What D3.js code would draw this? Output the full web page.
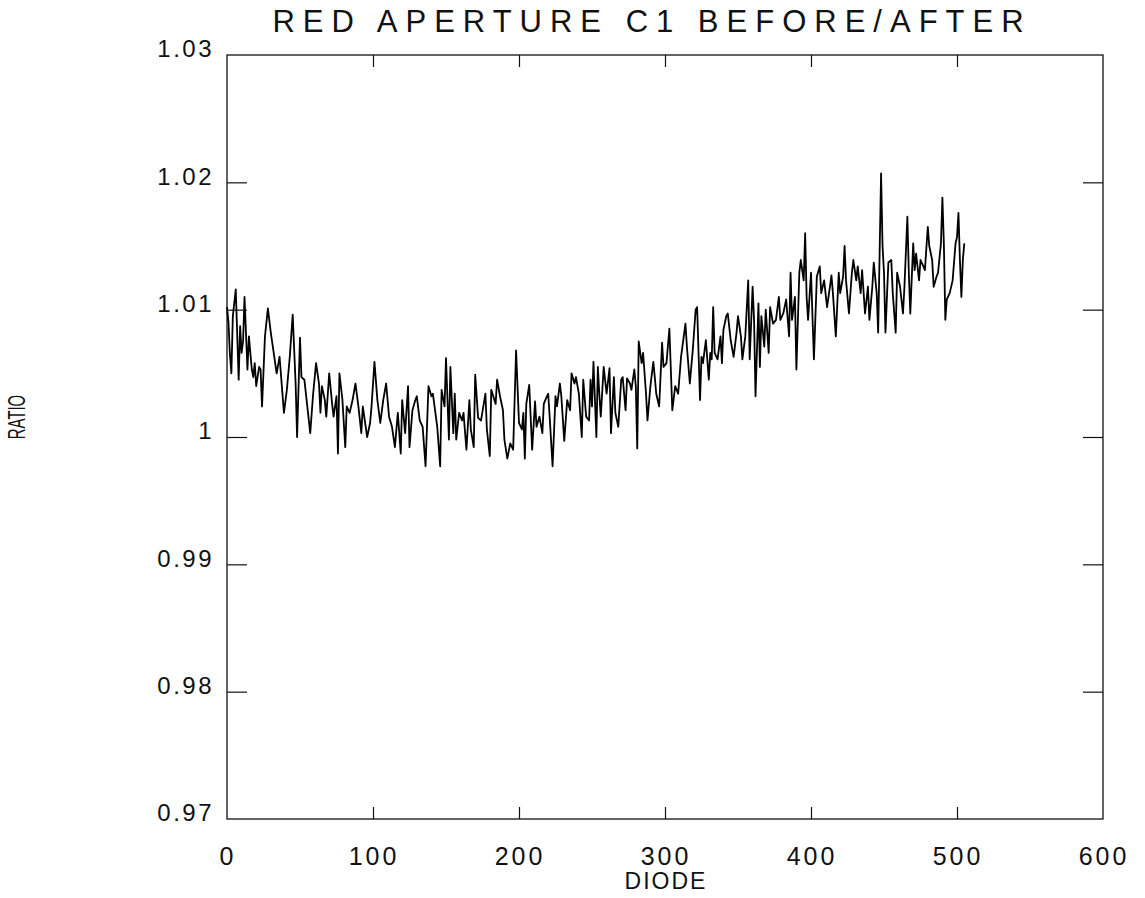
<!DOCTYPE html>
<html>
<head>
<meta charset="utf-8">
<script src="https://cdn.jsdelivr.net/npm/d3@7"></script>
<style>
  body { margin: 0; background: #fff; }
  svg text { font-family: "Liberation Sans", "DejaVu Sans", sans-serif; fill: #111; }
</style>
</head>
<body>
<svg id="chart" width="1145" height="898"></svg>
<script>
'use strict';

const titleText = "RED  APERTURE C1  BEFORE/AFTER";
const xTicks = [0, 100, 200, 300, 400, 500, 600];
const yTicks = [0.97, 0.98, 0.99, 1, 1.01, 1.02, 1.03];

// diode number and before/after ratio
const diodes = [
  0, 1, 2, 3, 4, 6, 8, 9, 10, 11, 12, 14, 15, 17, 18, 19, 20, 22, 23, 24,
  26, 28, 30, 32, 34, 36, 39, 41, 43, 45, 47, 48, 50, 51, 53, 55, 57, 59, 61, 63,
  64, 65, 67, 68, 70, 72, 73, 75, 76, 77, 79, 81, 82, 84, 86, 88, 90, 92, 93, 95,
  96, 98, 99, 101, 103, 105, 107, 109, 111, 113, 115, 117, 119, 120, 122, 124, 125, 127, 129, 130,
  132, 134, 136, 138, 140, 141, 144, 146, 147, 149, 150, 152, 153, 155, 156, 157, 159, 161, 162, 164,
  166, 167, 169, 170, 172, 174, 177, 178, 180, 181, 184, 185, 187, 189, 190, 192, 194, 196, 198, 200,
  202, 203, 204, 205, 207, 209, 211, 212, 214, 216, 217, 218, 220, 221, 223, 225, 226, 228, 229, 231,
  233, 235, 236, 238, 239, 241, 243, 244, 246, 248, 249, 250, 251, 253, 254, 255, 256, 258, 260, 262,
  263, 265, 266, 268, 270, 271, 273, 274, 276, 277, 279, 280, 281, 282, 284, 285, 287, 288, 290, 292,
  293, 294, 296, 298, 299, 301, 303, 304, 305, 307, 309, 311, 314, 315, 317, 319, 321, 322, 324, 325,
  326, 328, 330, 331, 332, 333, 334, 336, 338, 339, 340, 342, 343, 345, 347, 349, 350, 352, 353, 355,
  357, 358, 360, 361, 362, 364, 365, 366, 368, 369, 371, 372, 374, 376, 378, 379, 381, 383, 385, 386,
  387, 389, 390, 392, 393, 395, 396, 397, 398, 400, 402, 404, 406, 407, 409, 411, 413, 414, 415, 417,
  419, 420, 422, 423, 424, 426, 428, 429, 431, 432, 434, 435, 437, 439, 440, 442, 443, 445, 446, 448,
  449, 450, 451, 453, 455, 456, 458, 459, 461, 463, 464, 466, 467, 468, 470, 471, 472, 474, 475, 477,
  478, 480, 481, 483, 484, 486, 487, 489, 490, 491, 492, 493, 495, 497, 499, 500, 501, 502, 503, 504,
  505
];
const ratios = [
  1.0102, 1.0090, 1.0065, 1.0050, 1.0095, 1.0116, 1.0045, 1.0087, 1.0066, 1.0075, 1.0110, 1.0053, 1.0079, 1.0053, 1.0047, 1.0058, 1.0040, 1.0055, 1.0053, 1.0024,
  1.0079, 1.0101, 1.0082, 1.0066, 1.0050, 1.0063, 1.0019, 1.0037, 1.0063, 1.0096, 1.0042, 1.0000, 1.0078, 1.0047, 1.0045, 1.0024, 1.0003, 1.0034, 1.0058, 1.0042,
  1.0019, 1.0040, 1.0029, 1.0016, 1.0050, 1.0026, 1.0016, 1.0032, 0.9987, 1.0050, 1.0030, 0.9992, 1.0024, 1.0019, 1.0029, 1.0042, 1.0024, 1.0003, 1.0024, 1.0008,
  1.0000, 1.0011, 1.0024, 1.0059, 1.0029, 1.0011, 1.0029, 1.0042, 1.0016, 1.0008, 0.9992, 1.0019, 0.9987, 1.0029, 1.0003, 1.0040, 0.9992, 1.0021, 1.0029, 1.0032,
  1.0013, 1.0008, 0.9977, 1.0040, 1.0032, 1.0034, 1.0008, 0.9977, 1.0037, 1.0024, 1.0062, 0.9998, 1.0055, 1.0003, 1.0034, 0.9998, 1.0019, 1.0013, 1.0019, 0.9990,
  1.0029, 1.0006, 0.9992, 1.0049, 1.0015, 1.0013, 1.0034, 1.0006, 0.9985, 1.0037, 1.0026, 1.0045, 1.0032, 1.0021, 0.9998, 0.9983, 0.9995, 0.9990, 1.0068, 1.0011,
  1.0006, 1.0019, 0.9983, 1.0026, 1.0041, 0.9990, 1.0028, 1.0008, 1.0016, 1.0003, 1.0026, 1.0029, 1.0034, 1.0016, 0.9977, 1.0032, 1.0024, 1.0042, 1.0032, 0.9997,
  1.0029, 1.0021, 1.0050, 1.0042, 1.0047, 1.0034, 1.0000, 1.0045, 1.0016, 1.0013, 1.0045, 1.0024, 1.0059, 1.0000, 1.0055, 1.0034, 1.0016, 1.0055, 1.0034, 1.0054,
  1.0003, 1.0047, 1.0019, 1.0008, 1.0045, 1.0047, 1.0021, 1.0046, 1.0042, 1.0037, 1.0053, 1.0040, 0.9991, 1.0075, 1.0058, 1.0066, 1.0034, 1.0013, 1.0040, 1.0059,
  1.0047, 1.0034, 1.0024, 1.0074, 1.0055, 1.0058, 1.0085, 1.0053, 1.0021, 1.0040, 1.0034, 1.0063, 1.0089, 1.0071, 1.0042, 1.0068, 1.0100, 1.0102, 1.0029, 1.0063,
  1.0058, 1.0076, 1.0045, 1.0066, 1.0061, 1.0102, 1.0066, 1.0061, 1.0079, 1.0058, 1.0084, 1.0095, 1.0097, 1.0076, 1.0063, 1.0082, 1.0095, 1.0079, 1.0061, 1.0079,
  1.0123, 1.0061, 1.0118, 1.0092, 1.0032, 1.0105, 1.0055, 1.0095, 1.0071, 1.0100, 1.0066, 1.0102, 1.0089, 1.0092, 1.0110, 1.0092, 1.0097, 1.0108, 1.0079, 1.0129,
  1.0092, 1.0110, 1.0053, 1.0129, 1.0139, 1.0123, 1.0160, 1.0110, 1.0092, 1.0129, 1.0061, 1.0126, 1.0134, 1.0113, 1.0123, 1.0102, 1.0118, 1.0127, 1.0113, 1.0079,
  1.0129, 1.0113, 1.0126, 1.0150, 1.0123, 1.0097, 1.0129, 1.0139, 1.0123, 1.0134, 1.0113, 1.0131, 1.0097, 1.0118, 1.0092, 1.0118, 1.0137, 1.0113, 1.0082, 1.0207,
  1.0150, 1.0129, 1.0082, 1.0137, 1.0139, 1.0113, 1.0082, 1.0129, 1.0118, 1.0097, 1.0118, 1.0173, 1.0129, 1.0097, 1.0152, 1.0131, 1.0144, 1.0123, 1.0139, 1.0134,
  1.0131, 1.0165, 1.0150, 1.0139, 1.0118, 1.0126, 1.0129, 1.0152, 1.0188, 1.0152, 1.0092, 1.0108, 1.0113, 1.0123, 1.0152, 1.0157, 1.0176, 1.0139, 1.0110, 1.0139,
  1.0152
];

const svg = d3.select("#chart");

const x = d3.scaleLinear().domain([0, 600]).range([227, 1103]);
const y = d3.scaleLinear().domain([0.97, 1.03]).range([819, 55]);

// frame
svg.append("rect")
  .attr("x", x(0)).attr("y", y(1.03))
  .attr("width", x(600) - x(0)).attr("height", y(0.97) - y(1.03))
  .attr("fill", "none").attr("stroke", "#111").attr("stroke-width", 1.3);

// inward ticks on all four sides
const tickFmt = d => d === 1 ? "1" : d3.format(".2f")(d);

svg.append("g")
  .attr("transform", `translate(${x(0)},0)`)
  .call(d3.axisRight(y).tickValues(yTicks.slice(1, -1)).tickSize(20).tickFormat(""))
  .call(g => g.select(".domain").remove());
svg.append("g")
  .attr("transform", `translate(${x(600)},0)`)
  .call(d3.axisLeft(y).tickValues(yTicks.slice(1, -1)).tickSize(20).tickFormat(""))
  .call(g => g.select(".domain").remove());
svg.append("g")
  .attr("transform", `translate(0,${y(1.03)})`)
  .call(d3.axisBottom(x).tickValues(xTicks.slice(1, -1)).tickSize(12).tickFormat(""))
  .call(g => g.select(".domain").remove());
svg.append("g")
  .attr("transform", `translate(0,${y(0.97)})`)
  .call(d3.axisTop(x).tickValues(xTicks.slice(1, -1)).tickSize(12).tickFormat(""))
  .call(g => g.select(".domain").remove());
svg.selectAll(".tick line").attr("stroke", "#111").attr("stroke-width", 1.2);

// tick labels
svg.append("g").selectAll("text")
  .data(yTicks)
  .join("text")
  .attr("x", 214)
  .attr("y", d => y(d) - 4)
  .attr("text-anchor", "end")
  .attr("dominant-baseline", "middle")
  .attr("font-size", 24)
  .attr("letter-spacing", 2.5)
  .attr("fill", "#222")
  .text(tickFmt);

svg.append("g").selectAll("text")
  .data(xTicks)
  .join("text")
  .attr("x", d => x(d) + 1)
  .attr("y", 858)
  .attr("text-anchor", "middle")
  .attr("dominant-baseline", "middle")
  .attr("font-size", 25)
  .attr("letter-spacing", 3)
  .attr("fill", "#222")
  .text(d => d);

// labels
svg.append("text")
  .attr("x", 666).attr("y", 883)
  .attr("text-anchor", "middle")
  .attr("dominant-baseline", "middle")
  .attr("font-size", 23)
  .attr("letter-spacing", 2)
  .text("DIODE");

svg.append("text")
  .attr("transform", "translate(19,417) rotate(-90) scale(0.62,1)")
  .attr("text-anchor", "middle")
  .attr("dominant-baseline", "middle")
  .attr("font-size", 24)
  .text("RATIO");

svg.append("text")
  .attr("x", 652).attr("y", 24)
  .attr("text-anchor", "middle")
  .attr("dominant-baseline", "middle")
  .attr("font-size", 31)
  .attr("letter-spacing", 8)
  .attr("fill", "#222")
  .text(titleText);

// the ratio trace
const line = d3.line()
  .x((d, i) => x(diodes[i]))
  .y(d => y(d));

svg.append("path")
  .datum(ratios)
  .attr("fill", "none")
  .attr("stroke", "#000")
  .attr("stroke-width", 1.8)
  .attr("stroke-linejoin", "round")
  .attr("d", line);
</script>
</body>
</html>
